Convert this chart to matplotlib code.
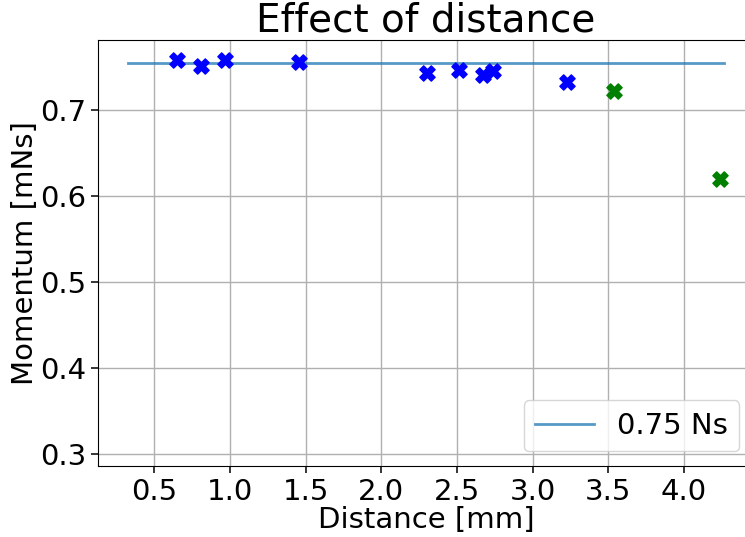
import matplotlib
matplotlib.use("Agg")
import matplotlib.pyplot as plt
import numpy as np

# Data
blue_dist = [0.652, 0.807, 0.970, 1.454, 2.302, 2.514, 2.674, 2.736, 3.226]
blue_mom = [0.7586, 0.7508, 0.7586, 0.7555, 0.7430, 0.7470, 0.7410, 0.7450, 0.7324]
green_dist = [3.538, 4.239]
green_mom = [0.7227, 0.620]
ref_x = [0.326, 4.266]
ref_y = [0.755, 0.755]
ref_label = "0.75 Ns"
xticks = [0.5, 1.0, 1.5, 2.0, 2.5, 3.0, 3.5, 4.0]
yticks = [0.3, 0.4, 0.5, 0.6, 0.7]

fig = plt.figure(figsize=(7.45, 5.37), dpi=100)
ax = fig.add_axes([98 / 745, (537 - 466) / 537, (754 - 98) / 745, (466 - 40) / 537])

ax.plot(ref_x, ref_y, color="C0", alpha=0.75, lw=2, label=ref_label)
ax.scatter(blue_dist, blue_mom, marker="X", s=120, color="blue", zorder=3)
ax.scatter(green_dist, green_mom, marker="X", s=120, color="green", zorder=3)

ax.set_xlim(0.129, 4.463)
ax.set_ylim(0.2855, 0.7815)
ax.set_xticks(xticks)
ax.set_yticks(yticks)
ax.tick_params(labelsize=21, width=1.1, length=5)
ax.grid(True, lw=1.0)
ax.set_title("Effect of distance", fontsize=28)
ax.set_xlabel("Distance [mm]", fontsize=21, labelpad=0)
ax.set_ylabel("Momentum [mNs]", fontsize=21, labelpad=0.5)
ax.legend(loc="lower right", fontsize=21)

fig.savefig("out.png", dpi=100)
